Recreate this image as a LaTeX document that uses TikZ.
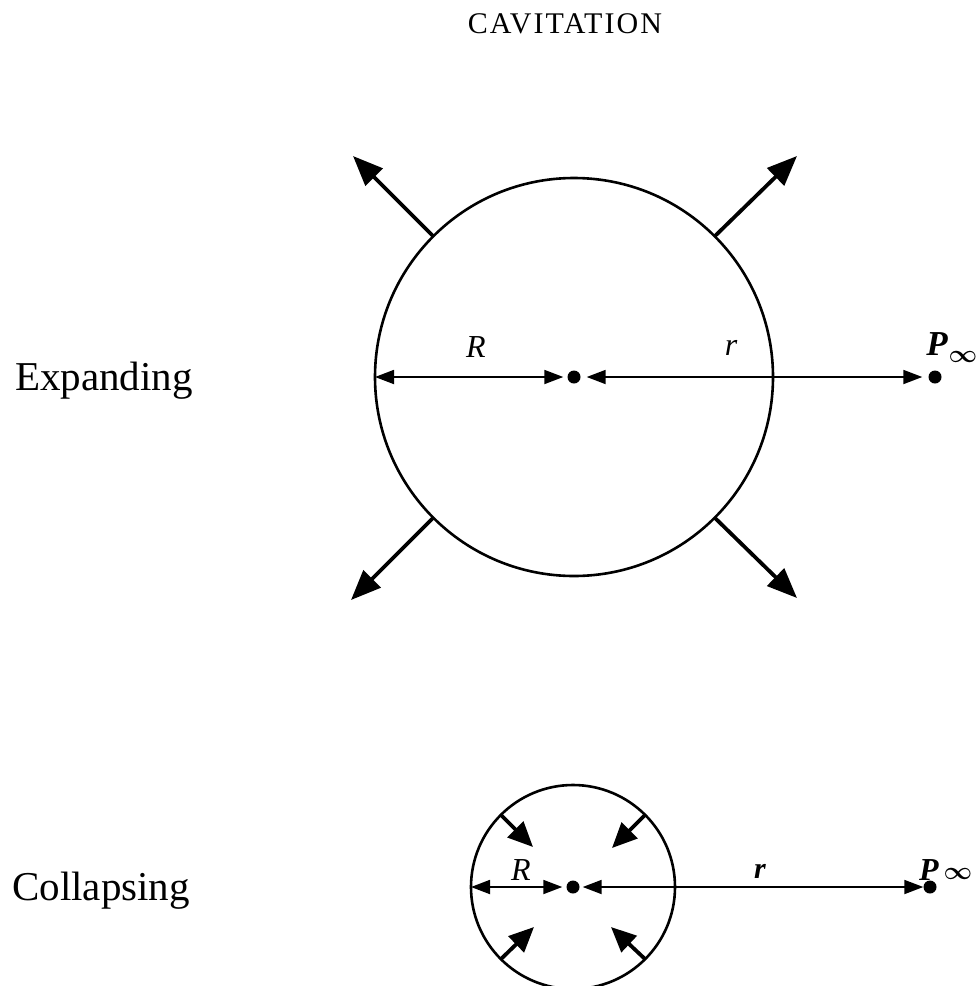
\documentclass[tikz,border=0pt]{standalone}
\usepackage{fontspec}
\setmainfont{Liberation Serif}
\usetikzlibrary{arrows.meta}
\begin{document}
\begin{tikzpicture}[x=1pt,y=-1pt,
  bubble/.style={circle,draw,line width=2.6pt,inner sep=0pt,outer sep=0pt},
  dotnode/.style={circle,fill,inner sep=0pt,minimum size=13pt},
  harrow/.style={line width=1.8pt,{Triangle[length=19pt,width=14pt]}-{Triangle[length=19pt,width=14pt]}},
  darrow/.style={line width=3.8pt,-{Triangle[length=30pt,width=24pt]}},
  carrow/.style={line width=3.8pt,-{Triangle[length=25pt,width=22pt]}},
  lab/.style={font=\fontsize{41}{48}\selectfont,anchor=base west,inner sep=0pt},
  sym/.style={font=\fontsize{32}{36}\selectfont\itshape,anchor=base,inner sep=0pt},
  psym/.style={font=\fontsize{35}{38}\selectfont\bfseries\itshape,anchor=base,inner sep=0pt},
  inf/.style={font=\fontsize{23}{26}\selectfont\boldmath,anchor=center,inner sep=0pt}]
\useasboundingbox (0,0) rectangle (978,986);

% title
\node[font=\fontsize{30}{34}\selectfont\addfontfeatures{LetterSpace=7},anchor=base,inner sep=0pt] (title) at (565,33) {CAVITATION};

% ---------- Expanding ----------
\node[lab] (lexp) at (15,390) {Expanding};
\node[bubble,minimum size=398pt] (bub1) at (574,377) {};
\node[dotnode] (c1) at (574,377) {};
\node[dotnode] (p1) at (935,377) {};
\draw[harrow,shorten >=4pt] (bub1.west) -- (c1);
\draw[harrow,shorten <=6pt,shorten >=6pt] (c1) -- (p1);
\coordinate (o1) at (353,156);
\coordinate (o2) at (797,156);
\coordinate (o3) at (351,600);
\coordinate (o4) at (797,598);
\draw[darrow] (bub1.135) -- (o1);
\draw[darrow] (bub1.45) -- (o2);
\draw[darrow] (bub1.225) -- (o3);
\draw[darrow] (bub1.315) -- (o4);
\node[sym] (R1) at (476,357) {R};
\node[sym] (r1) at (731,355) {r};
\node[psym] (P1) at (937,355) {P};
\node[inf] (i1) at (963,357) {$\infty$};

% ---------- Collapsing ----------
\node[lab] (lcol) at (12,900) {Collapsing};
\node[bubble,minimum size=204pt] (bub2) at (573,887) {};
\node[dotnode] (c2) at (573,887) {};
\node[dotnode] (p2) at (930,887) {};
\draw[harrow,shorten >=4pt] (bub2.west) -- (c2);
\draw[harrow,shorten <=3pt,shorten >=0pt] (c2) -- (p2);
\coordinate (i1c) at (533,847);
\coordinate (i2c) at (612,848);
\coordinate (i3c) at (534,927);
\coordinate (i4c) at (611,927);
\draw[carrow] (bub2.135) -- (i1c);
\draw[carrow] (bub2.45) -- (i2c);
\draw[carrow] (bub2.225) -- (i3c);
\draw[carrow] (bub2.315) -- (i4c);
\node[sym] (R2) at (521,880) {R};
\node[sym,font=\fontsize{30}{32}\selectfont\bfseries\itshape] (r2) at (760,878) {r};
\node[psym,font=\fontsize{32}{34}\selectfont\bfseries\itshape] (P2) at (929,880) {P};
\node[inf] (i2) at (958,874) {$\infty$};
\end{tikzpicture}
\end{document}
